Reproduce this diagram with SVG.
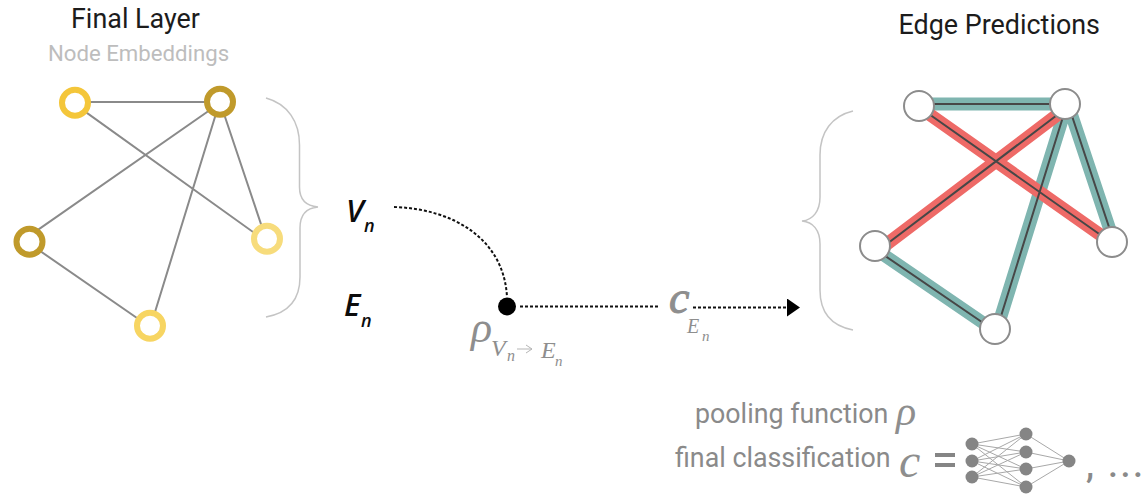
<svg xmlns="http://www.w3.org/2000/svg" width="1148" height="504" viewBox="0 0 1148 504">
<defs>
<style>
.t{font-family:Roboto,"Liberation Sans",sans-serif}
.h{font-size:26.900px;fill:#1c1c1c}
.g{font-size:26.800px;fill:#8a8a8a}
.m{font-family:"Liberation Serif",serif;font-style:italic;fill:#8e8e8e}
.v{font-family:"Open Sans",sans-serif;font-style:italic;font-weight:600;fill:#0c0c0c}
.e{stroke:#8a8a8a;stroke-width:2;fill:none}
.b{stroke:#c4c4c4;stroke-width:1.5;fill:none}
.d{stroke:#111;stroke-width:2;stroke-dasharray:3 2;fill:none}
.ring{fill:#fff;stroke-width:6}
.pn{fill:#fff;stroke:#8c8c8c;stroke-width:2}
.teal{stroke:#7fb5b0;stroke-width:13;fill:none}
.red{stroke:#ee6a67;stroke-width:13;fill:none}
.core{stroke:#474747;stroke-width:2;fill:none}
.nn{stroke:#a8a8a8;stroke-width:1;fill:none}
.nd{fill:#858585}
</style>
<marker id="arrow" markerWidth="14" markerHeight="18" refX="1" refY="9" orient="auto" markerUnits="userSpaceOnUse"><path d="M0 0L13 9L0 18Z" fill="#000"/></marker>
</defs>
<text class="t h" x="71" y="27.500">Final Layer</text>
<text class="t" x="48" y="60.500" style="font-size:22.200px;fill:#bdbdbd">Node Embeddings</text>
<text class="t h" x="898.500" y="34">Edge Predictions</text>
<g id="connectors">
<g id="left-edges">
<path class="e" d="M75 102L220 102M75 104.400L267 242M220 103L30 235.400M219.600 102L151 325M220 102L266 239M30 244L150 327"/>
</g>
<path class="b" d="M266 98C288 104 299.500 122 299.500 145L299.500 187C299.500 199 306 206 318 207C306 208 300 215 300 228L300 277C300 300 288 313 266 317"/>
<path class="b" d="M853 111C832 116 820 132 820 155L820 197C820 211 813 220 802 221C813 222 820 230 820 244L820 290C820 313 832 326 853 330"/>
<path class="d" d="M394 207C455 209 504 240 507 297"/>
<path class="d" d="M520 306.500L660 306.500"/>
<path class="d" d="M693 307.500L788 307.500" marker-end="url(#arrow)"/>
<g id="right-edges">
<path class="teal" d="M919 104L1065 104M1068 104L1114 242M1067 104L997 329M875 249L995 331"/>
<path class="red" d="M919 107L1112 243M1065 109L875 253"/>
<path class="core" d="M919 104L1065 104M919 107L1112 243M1065 109L875 253M1068 104L1114 242M1067 104L997 329M875 249L995 331"/>
</g>
</g>
<g id="node-l1"><circle class="ring" cx="75" cy="102.700" r="13" stroke="#f4c63a"/></g>
<g id="node-l2"><circle class="ring" cx="220" cy="101.700" r="13" stroke="#c09a2b"/></g>
<g id="node-l3"><circle class="ring" cx="29.500" cy="241.700" r="13" stroke="#c09a2b"/></g>
<g id="node-l4"><circle class="ring" cx="267" cy="238.700" r="13" stroke="#f7dc7c"/></g>
<g id="node-l5"><circle class="ring" cx="150" cy="325.700" r="13" stroke="#f7d562"/></g>
<g id="node-r1"><circle class="pn" cx="919" cy="106" r="15"/></g>
<g id="node-r2"><circle class="pn" cx="1065" cy="104" r="15"/></g>
<g id="node-r3"><circle class="pn" cx="875" cy="246" r="15"/></g>
<g id="node-r4"><circle class="pn" cx="1112" cy="242" r="15"/></g>
<g id="node-r5"><circle class="pn" cx="995" cy="329" r="15"/></g>
<text class="v" x="346" y="222" font-size="31">V</text>
<text class="v" x="364" y="232" font-size="18">n</text>
<text class="v" x="344" y="316" font-size="31">E</text>
<text class="v" x="361" y="327" font-size="18">n</text>
<g id="node-pool"><circle cx="507" cy="306.500" r="9" fill="#000"/></g>
<text class="m" x="471" y="342" font-size="44">ρ</text>
<text class="m" x="491" y="356" font-size="24">V</text>
<text class="m" x="507" y="361" font-size="16">n</text>
<path d="M517 349L532 349M526 345L532 349L526 353" fill="none" stroke="#b5b5b5" stroke-width="1"/>
<text class="m" x="541" y="358" font-size="24">E</text>
<text class="m" x="555" y="366" font-size="15">n</text>
<text class="m" x="669" y="313" font-size="46" style="stroke:#8e8e8e;stroke-width:1">c</text>
<text class="m" x="687" y="333" font-size="20">E</text>
<text class="m" x="702" y="341" font-size="15">n</text>
<text class="t g" x="695" y="423">pooling function</text>
<text class="m" x="896" y="425" font-size="42">ρ</text>
<text class="t g" x="675" y="467">final classification</text>
<text class="m" x="899" y="477" font-size="48">c</text>
<path d="M935 455H955M935 465H955" stroke="#858585" stroke-width="4" fill="none"/>
<g id="network">
<path class="nn" d="M972 444L1026 434M972 444L1026 452M972 444L1026 469M972 444L1026 487M972 461L1026 434M972 461L1026 452M972 461L1026 469M972 461L1026 487M972 477L1026 434M972 477L1026 452M972 477L1026 469M972 477L1026 487M1026 434L1069 461M1026 452L1069 461M1026 469L1069 461M1026 487L1069 461"/>
<circle class="nd" cx="972" cy="444" r="6.500"/><circle class="nd" cx="972" cy="461" r="6.500"/><circle class="nd" cx="972" cy="477" r="6.500"/>
<circle class="nd" cx="1026" cy="434" r="6.500"/><circle class="nd" cx="1026" cy="452" r="6.500"/><circle class="nd" cx="1026" cy="469" r="6.500"/><circle class="nd" cx="1026" cy="487" r="6.500"/>
<circle class="nd" cx="1069" cy="461" r="6.500"/>
</g>
<text class="t g" x="1086" y="477" style="font-size:36px;font-weight:500;letter-spacing:2.500px">, ...</text>
</svg>
